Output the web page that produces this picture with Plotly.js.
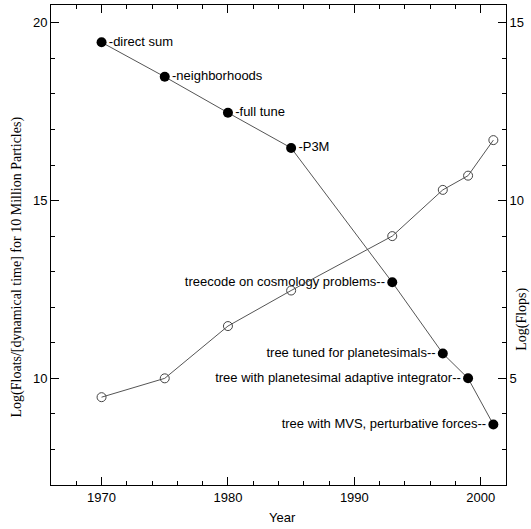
<!DOCTYPE html>
<html><head><meta charset="utf-8">
<script src="https://cdn.plot.ly/plotly-3.0.1.min.js"></script>
<style>html,body{margin:0;padding:0;background:#fff}</style>
</head><body><div id="chart" style="width:531px;height:529px"></div>
<script>
// Left axis: Log(Floats/[dynamical time]) for 10 Million Particles
const floatYears = [1970, 1975, 1980, 1985, 1993, 1997, 1999, 2001];
const floatValues = [19.45, 18.48, 17.47, 16.48, 12.7, 10.7, 10.0, 8.7];
const floatLabels = ["-direct sum", "-neighborhoods", "-full tune", "-P3M",
  "treecode on cosmology problems--", "tree tuned for planetesimals--",
  "tree with planetesimal adaptive integrator--", "tree with MVS, perturbative forces--"];
const labelSides = ["middle right", "middle right", "middle right", "middle right",
  "middle left", "middle left", "middle left", "middle left"];
// Right axis: Log(Flops)
const flopYears = [1970, 1975, 1980, 1985, 1993, 1997, 1999, 2001];
const flopValues = [4.47, 5.0, 6.47, 7.47, 9.0, 10.3, 10.7, 11.7];

const sans = {family: "Liberation Sans", size: 13, color: "#000"};
const serif = {family: "Liberation Serif", size: 14, color: "#000"};

const traces = [
  {x: floatYears, y: floatValues, text: floatLabels, textposition: labelSides,
   mode: "lines+markers+text", type: "scatter", cliponaxis: false,
   line: {color: "#555", width: 1}, marker: {color: "#000", size: 10},
   textfont: sans, hoverinfo: "none", showlegend: false},
  {x: flopYears, y: flopValues, yaxis: "y2", mode: "lines+markers", type: "scatter",
   line: {color: "#555", width: 1},
   marker: {symbol: "circle-open", color: "#444", size: 9, line: {width: 1}},
   hoverinfo: "none", showlegend: false}
];

const axisCommon = {showgrid: false, zeroline: false, showline: true, linecolor: "#000", linewidth: 1,
  ticks: "inside", ticklen: 8, tickcolor: "#000", tickwidth: 1, tickfont: sans};

const layout = {
  width: 531, height: 529,
  margin: {l: 51, r: 25, t: 5, b: 44},
  paper_bgcolor: "#fff", plot_bgcolor: "#fff",
  xaxis: Object.assign({}, axisCommon, {range: [1966, 2002], tick0: 1970, dtick: 10, mirror: "ticks",
    minor: {dtick: 2, tick0: 1970, ticks: "inside", ticklen: 4, tickcolor: "#000", showgrid: false}}),
  yaxis: Object.assign({}, axisCommon, {range: [7, 20.5], tick0: 0, dtick: 5,
    minor: {dtick: 1, ticks: "inside", ticklen: 4, tickcolor: "#000", showgrid: false}}),
  yaxis2: Object.assign({}, axisCommon, {range: [2, 15.5], tick0: 0, dtick: 5, overlaying: "y", side: "right",
    minor: {dtick: 1, ticks: "inside", ticklen: 4, tickcolor: "#000", showgrid: false}}),
  annotations: [
    {text: "Log(Floats/[dynamical time] for 10 Million Particles)", xref: "paper", yref: "paper",
     x: -0.075, y: 0.455, textangle: -90, showarrow: false, font: serif, xanchor: "center", yanchor: "middle"},
    {text: "Log(Flops)", xref: "paper", yref: "paper",
     x: 1.036, y: 0.345, textangle: -90, showarrow: false, font: serif, xanchor: "center", yanchor: "middle"},
    {text: "Year", xref: "paper", yref: "paper", x: 0.508, y: -0.068, showarrow: false,
     font: sans, xanchor: "center", yanchor: "middle"}
  ]
};

Plotly.newPlot("chart", traces, layout, {displayModeBar: false, staticPlot: true});
</script></body></html>
